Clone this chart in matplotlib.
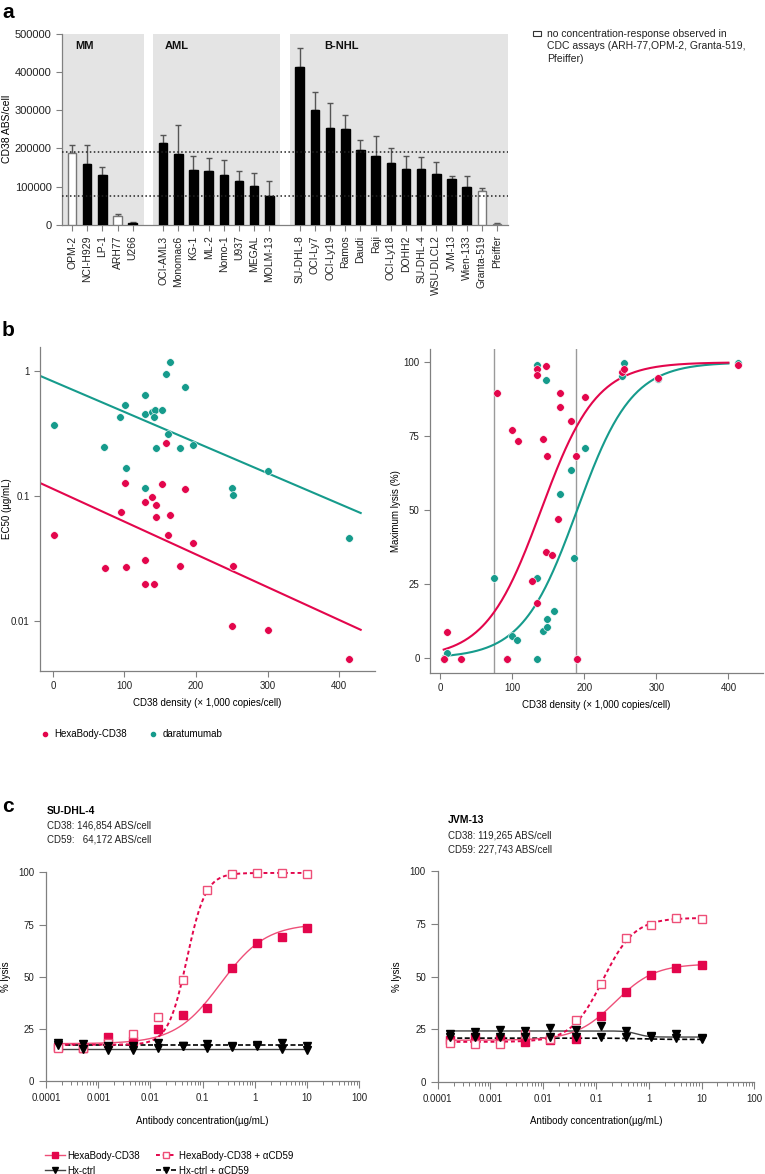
import numpy as np
import matplotlib.pyplot as plt
from matplotlib.lines import Line2D
from matplotlib.patches import Rectangle

plt.rcParams['font.family'] = ['Liberation Sans', 'DejaVu Sans']
plt.rcParams['axes.edgecolor'] = '#808080'
plt.rcParams['xtick.color'] = '#808080'
plt.rcParams['ytick.color'] = '#808080'
plt.rcParams['xtick.labelcolor'] = '#222222'
plt.rcParams['ytick.labelcolor'] = '#222222'

RED = '#e3064c'
TEAL = '#169b8c'
PINK = '#ee4f78'
W, H = 765, 1174

# ---------------- panel a: CD38 ABS/cell per cell line ----------------
mm_lines = ['OPM-2', 'NCI-H929', 'LP-1', 'ARH77', 'U266']
mm_abs = [187000, 160000, 130000, 23000, 4000]
mm_err = [23000, 50000, 22000, 5000, 4000]
aml_lines = ['OCI-AML3', 'Monomac6', 'KG-1', 'ML-2', 'Nomo-1', 'U937', 'MEGAL', 'MOLM-13']
aml_abs = [214000, 185000, 143000, 140000, 131000, 116000, 103000, 75000]
aml_err = [20000, 76000, 38000, 36000, 39000, 24000, 34000, 40000]
nhl_lines = ['SU-DHL-8', 'OCI-Ly7', 'OCI-Ly19', 'Ramos', 'Daudi', 'Raji', 'OCI-Ly18',
             'DOHH2', 'SU-DHL-4', 'WSU-DLCL2', 'JVM-13', 'Wien-133', 'Granta-519', 'Pfeiffer']
nhl_abs = [412000, 301000, 253000, 250000, 197000, 179000, 162000,
           147000, 146000, 132000, 119000, 98000, 89000, 2000]
nhl_err = [51000, 47000, 65000, 36000, 24000, 54000, 40000,
           34000, 31000, 32000, 8000, 30000, 7000, 4000]
group_names = ['MM', 'AML', 'B-NHL']
no_response = ['OPM-2', 'ARH77', 'Granta-519', 'Pfeiffer']
thresholds = [190000, 75000]

# ---------------- panel b: EC50 / max lysis vs CD38 density ----------------
ec50_hexa_x = [158, 101, 153, 184, 129, 138, 144, 95, 144, 163, 1, 161, 196, 73, 102,
               129, 178, 252, 129, 141, 250, 301, 414]
ec50_hexa_y = [0.267, 0.128, 0.124, 0.113, 0.089, 0.098, 0.085, 0.074, 0.068, 0.070, 0.049,
               0.049, 0.042, 0.0265, 0.027, 0.031, 0.0274, 0.0274, 0.0199, 0.0199, 0.0092,
               0.0085, 0.0050]
ec50_dara_x = [1, 72, 94, 101, 102, 129, 129, 129, 138, 143, 141, 153, 144, 158, 163,
               161, 178, 184, 196, 250, 252, 300, 414]
ec50_dara_y = [0.37, 0.246, 0.43, 0.53, 0.166, 0.64, 0.45, 0.115, 0.47, 0.49, 0.43, 0.49,
               0.24, 0.94, 1.17, 0.315, 0.242, 0.74, 0.257, 0.116, 0.102, 0.157, 0.0465]
# log10-linear regression lines (intercept, slope)
ec50_fit_hexa = (-0.943, -0.002618)
ec50_fit_dara = (-0.084, -0.002446)

lysis_hexa_x = [79, 100, 108, 134, 134, 147, 143, 149, 167, 166, 182, 201, 188, 163, 252,
                255, 302, 414, 9, 5, 29, 93, 190, 134, 147, 155, 128]
lysis_hexa_y = [89.6, 77, 73.4, 97.9, 95.6, 98.6, 74.2, 68.3, 89.6, 84.9, 80.2, 88.4, 68.3,
                47.1, 96.7, 97.7, 94.7, 99, 8.7, -0.4, -0.4, -0.4, -0.4, 18.7, 36, 35, 26]
lysis_dara_x = [134, 147, 201, 182, 166, 255, 252, 302, 414, 9, 5, 93, 134, 190, 100, 107,
                143, 149, 149, 158, 75, 135, 186]
lysis_dara_y = [99, 94, 71.2, 63.5, 55.4, 99.7, 95.4, 94.2, 99.7, 1.8, -0.4, -0.4, -0.4,
                -0.4, 7.4, 6.3, 9.2, 10.6, 13.4, 16, 27, 27, 34]
# logistic fits (midpoint, scale)
lysis_fit_hexa = (140, 38.5)
lysis_fit_dara = (190, 38)
density_cutoffs = [75, 189]

# ---------------- panel c: CDC dose-response ----------------
conc = [0.000169, 0.000508, 0.001524, 0.004572, 0.01372, 0.04115, 0.1235, 0.3704,
        1.111, 3.333, 10]
sudhl4_hexa = [16.5, 16.1, 21.3, 19.4, 25, 31.5, 35, 54.3, 66.3, 69.1, 73.4]
sudhl4_hexa_acd59 = [15.8, 16, 18.2, 22.6, 30.9, 48.4, 91.3, 99.1, 99.7, 99.7, 99.4]
sudhl4_ctrl = [18.5, 15.5, 15, 15, 16, 17, 16, 16.5, 17.5, 15.5, 15]
sudhl4_ctrl_acd59 = [17.5, 18, 17, 17, 18.5, 17, 18, 17, 17, 18.5, 17]
jvm13_hexa = [19.9, 21.2, 20.4, 19.1, 19.9, 20.3, 31.3, 42.6, 50.7, 54, 55.5]
jvm13_hexa_acd59 = [18.6, 17.8, 17.8, 22.7, 20.3, 29.4, 46.4, 68.1, 74.6, 77.6, 77.3]
jvm13_ctrl = [22.7, 23.8, 24.6, 24.2, 25.6, 24.8, 26.4, 24.2, 21.7, 22.7, 21]
jvm13_ctrl_acd59 = [21.1, 21.4, 21.1, 21.1, 21.4, 21.1, 21.4, 21.1, 21.1, 20.8, 20.4]
# 4PL fits (bottom, top, EC50, hill)
sudhl4_fits = [(18, 75.5, 0.22, 1.0), (17.5, 99.7, 0.05, 2.4), (15.5, 15.5, 1, 1), (17.3, 17.3, 1, 1)]
jvm13_fits = [(19.8, 56, 0.23, 1.16), (19, 77.8, 0.135, 1.45), (24.2, 21.3, 0.6, 4), (20.8, 20.2, 0.6, 2)]


def fx(px):
    return px / W


def fy(py):
    return 1 - py / H


def four_pl(x, bottom, top, ec50, hill):
    return bottom + (top - bottom) / (1 + (ec50 / x) ** hill)


def style(ax):
    for s in ['top', 'right']:
        ax.spines[s].set_visible(False)
    for s in ['left', 'bottom']:
        ax.spines[s].set_linewidth(0.9)


def place_ylabel(ax, text, px_center, ax_left, ax_width, size=7):
    # put the (rotated) y label centred on a given pixel column
    ax.set_ylabel(text, fontsize=size, va='center')
    ax.yaxis.set_label_coords((px_center - ax_left) / ax_width, 0.5)


fig = plt.figure(figsize=(W / 100, H / 100), dpi=100)

# ================= panel a =================
ax = fig.add_axes([fx(62), fy(225), fx(508 - 62), (225 - 33.5) / H])
style(ax)
pos = 0
ticks, labels = [], []
label_off = [0.2, 0.1, 1.6]
for gi, (names, vals, errs) in enumerate([(mm_lines, mm_abs, mm_err),
                                           (aml_lines, aml_abs, aml_err),
                                           (nhl_lines, nhl_abs, nhl_err)]):
    x = np.arange(pos, pos + len(names))
    ax.axvspan(x[0] - 0.66, x[-1] + 0.72, color='#e4e4e4', lw=0, zorder=0)
    ax.text(x[0] + label_off[gi], 467000, group_names[gi], fontsize=8, fontweight='bold',
            va='center', ha='left', color='#111111')
    face = ['white' if n in no_response else 'black' for n in names]
    edge = ['#777777' if n in no_response else 'black' for n in names]
    ax.errorbar(x, vals, yerr=[np.zeros(len(errs)), errs], fmt='none', ecolor='#555555',
                elinewidth=1, capsize=2.5, capthick=1, zorder=2)
    ax.bar(x, vals, width=0.56, color=face, edgecolor=edge, linewidth=1, zorder=3)
    ticks += list(x)
    labels += names
    pos += len(names) + 1
for t in thresholds:
    ax.axhline(t, color='#222222', lw=1.1, ls=(0, (1, 1.6)), zorder=4)
ax.set_xlim(-0.66, ticks[-1] + 0.72)
ax.set_ylim(0, 500000)
ax.set_yticks(np.arange(0, 500001, 100000))
ax.set_yticklabels([str(v) for v in range(0, 500001, 100000)], fontsize=8)
ax.set_xticks(ticks)
ax.set_xticklabels(labels, rotation=90, fontsize=7.5)
ax.tick_params(length=4, width=0.8)
place_ylabel(ax, 'CD38 ABS/cell', 7, 62, 446, size=7.5)

fig.add_artist(Rectangle((fx(533), fy(35.5)), fx(8), 4 / H, transform=fig.transFigure,
                         facecolor='white', edgecolor='#333333', lw=0.8))
fig.text(fx(547), fy(29), 'no concentration-response observed in\nCDC assays (ARH-77,OPM-2, Granta-519,\nPfeiffer)',
         fontsize=7.5, va='top', ha='left', linespacing=1.3, color='#222222')

# ================= panel b left =================
ax = fig.add_axes([fx(40), fy(671), fx(375 - 40), (671 - 347) / H])
style(ax)
ax.set_yscale('log')
ax.scatter(ec50_dara_x, ec50_dara_y, s=30, color=TEAL, edgecolor='white', lw=0.4, zorder=3, clip_on=False)
ax.scatter(ec50_hexa_x, ec50_hexa_y, s=30, color=RED, edgecolor='white', lw=0.4, zorder=3, clip_on=False)
xl = np.array([-18, 430])
for (b0, b1), c in [(ec50_fit_dara, TEAL), (ec50_fit_hexa, RED)]:
    ax.plot(xl, 10 ** (b0 + b1 * xl), color=c, lw=1.5, zorder=2)
ax.set_xlim(-18, 450)
ax.set_ylim(0.004, 1.55)
ax.set_yticks([0.01, 0.1, 1])
ax.set_yticklabels(['0.01', '0.1', '1'], fontsize=7)
ax.yaxis.set_minor_locator(plt.NullLocator())
ax.set_xticks([0, 100, 200, 300, 400])
ax.set_xticklabels(['0', '100', '200', '300', '400'], fontsize=7)
ax.tick_params(length=4, width=0.8)
ax.set_xlabel('CD38 density (\u00d7 1,000 copies/cell)', fontsize=7, labelpad=5)
place_ylabel(ax, 'EC50 (\u00b5g/mL)', 7, 40, 335)

# ================= panel b right =================
ax = fig.add_axes([fx(430), fy(673), fx(333), (673 - 349) / H])
style(ax)
for c in density_cutoffs:
    ax.axvline(c, color='#9a9a9a', lw=1, zorder=1)
ax.scatter(lysis_dara_x, lysis_dara_y, s=30, color=TEAL, edgecolor='white', lw=0.4, zorder=3, clip_on=False)
ax.scatter(lysis_hexa_x, lysis_hexa_y, s=30, color=RED, edgecolor='white', lw=0.4, zorder=3, clip_on=False)
xc = np.linspace(5, 400, 300)
for (m, s), c in [(lysis_fit_dara, TEAL), (lysis_fit_hexa, RED)]:
    ax.plot(xc, 100 / (1 + np.exp(-(xc - m) / s)), color=c, lw=1.5, zorder=2)
ax.set_xlim(-14, 448)
ax.set_ylim(-5, 104.5)
ax.set_yticks([0, 25, 50, 75, 100])
ax.set_yticklabels(['0', '25', '50', '75', '100'], fontsize=7)
ax.set_xticks([0, 100, 200, 300, 400])
ax.set_xticklabels(['0', '100', '200', '300', '400'], fontsize=7)
ax.tick_params(length=4, width=0.8)
ax.set_xlabel('CD38 density (\u00d7 1,000 copies/cell)', fontsize=7, labelpad=5)
place_ylabel(ax, 'Maximum lysis (%)', 396, 430, 333)

fig.legend([Line2D([], [], ls='', marker='o', ms=3, color=RED),
            Line2D([], [], ls='', marker='o', ms=3, color=TEAL)],
           ['HexaBody-CD38', 'daratumumab'], ncol=2, frameon=False, fontsize=7,
           loc='center left', bbox_to_anchor=(fx(31), fy(734)), handlelength=1,
           handletextpad=0.5, columnspacing=2.2)

# ================= panel c =================
series_style = [
    dict(marker='s', ms=6, mfc=RED, mec=RED, ls='-', lw=1, lc=PINK),
    dict(marker='s', ms=6, mfc='white', mec=PINK, ls=(0, (2, 1.5)), lw=1.4, lc=RED),
    dict(marker='v', ms=6, mfc='black', mec='black', ls='-', lw=1, lc='#444444'),
    dict(marker='v', ms=6, mfc='black', mec='black', ls=(0, (3, 1.5)), lw=1.2, lc='black'),
]
cells = [
    ('SU-DHL-4', 'CD38: 146,854 ABS/cell', 'CD59:   64,172 ABS/cell',
     [sudhl4_hexa, sudhl4_hexa_acd59, sudhl4_ctrl, sudhl4_ctrl_acd59], sudhl4_fits,
     [46, 1081.3, 359.3, 872.3], (47, 811), 6),
    ('JVM-13', 'CD38: 119,265 ABS/cell', 'CD59: 227,743 ABS/cell',
     [jvm13_hexa, jvm13_hexa_acd59, jvm13_ctrl, jvm13_ctrl_acd59], jvm13_fits,
     [437.7, 1082, 754.3, 871], (448, 820), 397),
]
xs = np.logspace(np.log10(conc[0]), np.log10(conc[-1]), 300)
for name, l1, l2, data, fits, (x0, y0, x1, y1), (hx, hy), ylab_px in cells:
    ax = fig.add_axes([fx(x0), fy(y0), fx(x1 - x0), (y0 - y1) / H])
    style(ax)
    ax.set_xscale('log')
    for i in [2, 3, 0, 1]:
        st = series_style[i]
        ax.plot(xs, four_pl(xs, *fits[i]), color=st['lc'], ls=st['ls'], lw=st['lw'], zorder=2)
        ax.plot(conc, data[i], ls='', marker=st['marker'], ms=st['ms'], mfc=st['mfc'],
                mec=st['mec'], mew=1, zorder=3 + i, clip_on=False)
    ax.set_xlim(1e-4, 100)
    ax.set_ylim(0, 100)
    ax.set_xticks([1e-4, 1e-3, 1e-2, 1e-1, 1, 10, 100])
    ax.set_xticklabels(['0.0001', '0.001', '0.01', '0.1', '1', '10', '100'], fontsize=7)
    ax.set_yticks([0, 25, 50, 75, 100])
    ax.set_yticklabels(['0', '25', '50', '75', '100'], fontsize=7)
    ax.tick_params(which='major', length=5, width=0.8)
    ax.tick_params(which='minor', length=3, width=0.7)
    ax.set_xlabel('Antibody concentration(\u00b5g/mL)', fontsize=7, labelpad=9)
    place_ylabel(ax, '% lysis', ylab_px, x0, x1 - x0)
    fig.text(fx(hx), fy(hy), name, fontsize=7.5, fontweight='bold', va='center')
    fig.text(fx(hx), fy(hy + 15), l1, fontsize=7, va='center', color='#222222')
    fig.text(fx(hx), fy(hy + 29), l2, fontsize=7, va='center', color='#222222')

handles = []
for st in series_style:
    handles.append(Line2D([], [], color=st['lc'], ls=st['ls'], lw=st['lw'], marker=st['marker'],
                          ms=5, mfc=st['mfc'], mec=st['mec']))
fig.legend([handles[0], handles[2], handles[1], handles[3]],
           ['HexaBody-CD38', 'Hx-ctrl', 'HexaBody-CD38 + \u03b1CD59', 'Hx-ctrl + \u03b1CD59'],
           ncol=2, frameon=False, fontsize=7, loc='upper left',
           bbox_to_anchor=(fx(36), fy(1142)), handlelength=2.1, handletextpad=0.25,
           columnspacing=1.6, labelspacing=0.5)

for lab, (px, py) in zip(['a', 'b', 'c'], [(2, 13), (2, 330), (2, 807)]):
    fig.text(fx(px), fy(py), lab, fontsize=15, fontweight='bold', va='center', ha='left')

fig.savefig('out.png', dpi=100)
